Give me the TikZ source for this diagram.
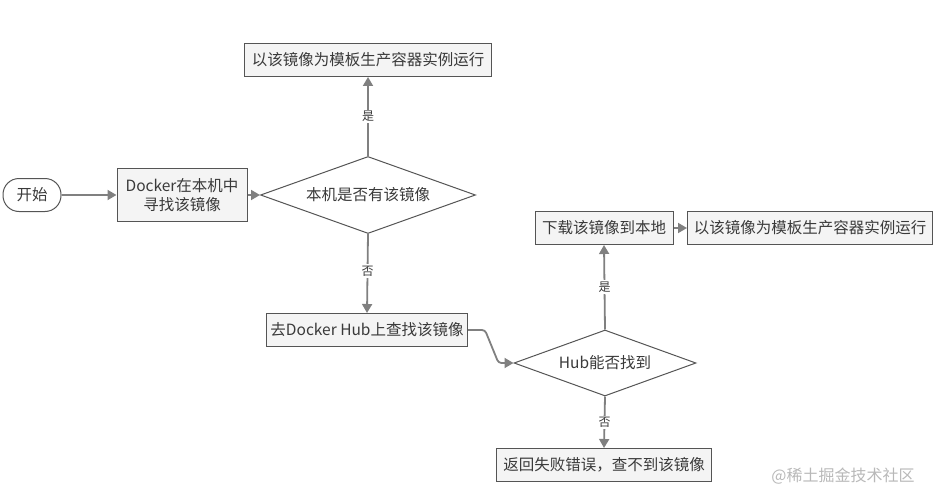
\documentclass[tikz,border=0pt]{standalone}
\usepackage{fontspec}
\setmainfont{Noto Sans CJK SC}
\usetikzlibrary{shapes.geometric,arrows.meta}
\definecolor{txt}{HTML}{3A3A3A}
\definecolor{bord}{HTML}{555555}
\definecolor{boxfill}{HTML}{F4F4F4}
\definecolor{conncol}{HTML}{808080}
\definecolor{wm}{HTML}{B8B8B8}
\tikzset{
  procbox/.style={draw=bord, line width=1pt, fill=boxfill, inner sep=0pt, text=txt,
    font=\fontsize{15.5}{19}\selectfont, align=center},
  decbox/.style={diamond, draw=bord, line width=1pt, fill=white, inner sep=0pt, text=txt,
    font=\fontsize{15.5}{19}\selectfont, shape aspect=2.8},
  startbox/.style={draw=bord, line width=1pt, fill=white, rounded corners=16pt, inner sep=0pt,
    text=txt, font=\fontsize{15.5}{19}\selectfont, minimum width=58pt, minimum height=33pt},
  conn/.style={draw=conncol, line width=1.8pt, -{Triangle[length=9pt,width=10pt]}},
  lbl/.style={fill=white, inner sep=1.5pt, text=txt, font=\fontsize{12}{14}\selectfont}
}
\begin{document}
\begin{tikzpicture}[x=1pt,y=-1pt]
\useasboundingbox (0,0) rectangle (940,503);
\node[startbox] (start) at (32,195) {开始};
\node[procbox, minimum width=130pt, minimum height=53pt] (find) at (182,195) {Docker在本机中\\寻找该镜像};
\node[decbox, minimum width=215pt, minimum height=77pt] (d1) at (368,195) {本机是否有该镜像};
\node[procbox, minimum width=247pt, minimum height=33pt] (run1) at (368,60) {以该镜像为模板生产容器实例运行};
\node[procbox, minimum width=201pt, minimum height=33pt] (hub) at (367,330) {去Docker Hub上查找该镜像};
\node[decbox, minimum width=182pt, minimum height=66pt, shape aspect=2.76] (d2) at (605,363) {Hub能否找到};
\node[procbox, minimum width=138pt, minimum height=33pt] (dl) at (604,228) {下载该镜像到本地};
\node[procbox, minimum width=245pt, minimum height=33pt] (run2) at (810,228) {以该镜像为模板生产容器实例运行};
\node[procbox, minimum width=215pt, minimum height=33pt] (fail) at (604,465) {返回失败错误，查不到该镜像};
\node[text=wm, font=\fontsize{16}{19}\selectfont, inner sep=0pt] (wmk) at (843,476) {@稀土掘金技术社区};

\draw[conn] (start) -- (find);
\draw[conn] (find) -- (d1.west);
\draw[conn] (d1.north) -- node[lbl] {是} (run1.south);
\draw[conn] (d1.south) -- node[lbl, pos=0.47] {否} (hub.north);
\draw[conn, rounded corners=3pt] (hub.east) -- ++(17,0) -- ([xshift=-15pt]d2.west) -- (d2.west);
\draw[conn] (d2.north) -- node[lbl, pos=0.5] {是} (dl.south);
\draw[conn] (dl) -- (run2);
\draw[conn] (d2.south) -- node[lbl, pos=0.5] {否} (fail.north);
\end{tikzpicture}
\end{document}
